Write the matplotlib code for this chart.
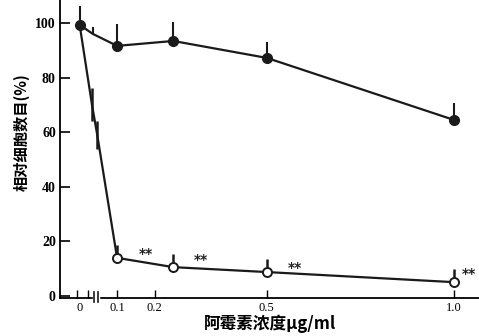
import numpy as np
import matplotlib.pyplot as plt
import matplotlib.transforms as mtransforms

# 浓度 (μg/ml) —— 0 附近为断轴区
conc_ctrl = [0, 0.035, 0.1, 0.25, 0.5, 1.0]
ctrl = [99.3, 96.0, 91.6, 93.4, 87.2, 64.5]
ctrl_err_up = [7.0, 2.5, 8.0, 7.0, 6.0, 6.2]

conc_dox = [0, 0.033, 0.047, 0.1, 0.25, 0.5, 1.0]
dox = [99.3, 70.0, 59.0, 14.0, 10.6, 8.8, 5.1]
dox_err_lo = [0, 6, 5, 0, 0, 0, 0]
dox_err_up = [0, 6, 5, 4.7, 4.8, 4.7, 4.9]

stars_at = [0.1, 0.25, 0.5, 1.0]   # 显著性 **
stars_val = [14.0, 10.6, 8.8, 5.1]
stars_dx = [21, 20, 20, 11]        # 偏移 (pt)
stars_dy = [3, 5, 3, 6]

xticks = [0, 0.1, 0.2, 0.5, 1.0]
xticklabels = ['0', '0.1', '0.2', '0.5', '1.0']
yticks = [0, 20, 40, 60, 80, 100]

plt.rcParams['font.family'] = ['Liberation Serif', 'Noto Sans CJK SC']

fig = plt.figure(figsize=(4.79, 3.36), dpi=100)
ax = fig.add_axes([60/479, 38/336, 419/479, 298/336])

# 对照组 (实心)
ax.errorbar(conc_ctrl, ctrl, yerr=[np.zeros(len(ctrl)), ctrl_err_up], fmt='none',
            ecolor='#1a1a1a', elinewidth=1.5, capsize=0, zorder=3)
ax.plot(conc_ctrl, ctrl, '-o', color='#1a1a1a', lw=1.6, ms=7, markevery=[0, 2, 3, 4, 5],
        mfc='#1a1a1a', mec='#1a1a1a', zorder=4)

# 阿霉素组 (空心)
ax.errorbar(conc_dox, dox, yerr=[dox_err_lo, dox_err_up], fmt='none',
            ecolor='#1a1a1a', elinewidth=1.8, capsize=0, zorder=3)
ax.plot(conc_dox, dox, '-', color='#1a1a1a', lw=1.6, zorder=4)
ax.plot(conc_dox[3:], dox[3:], 'o', ms=6.5, mfc='white', mec='#1a1a1a', mew=1.4, zorder=5)

for xs, ys, dx, dy in zip(stars_at, stars_val, stars_dx, stars_dy):
    ax.annotate('**', (xs, ys), xytext=(dx, dy), textcoords='offset points',
                fontsize=10, fontweight='bold', color='#222222', ha='center', va='center',
                family='DejaVu Sans')

ax.set_xlim(-0.0525, 1.067)
ax.set_ylim(-0.7, 108.4)
ax.set_yticks(yticks)
ax.set_xticks(xticks)
ax.set_xticklabels(xticklabels)
ax.set_xticks([-0.007, 0.022], minor=True)
ax.xaxis.get_major_ticks()[0].tick1line.set_visible(False)
ax.tick_params(axis='y', direction='in', length=7, width=1.2, labelsize=10, pad=3)
ax.tick_params(axis='x', which='both', direction='in', length=6, width=1.0, labelsize=9, pad=3)
for lab in ax.get_yticklabels():
    lab.set_fontweight('bold')
for s in ['top', 'right']:
    ax.spines[s].set_visible(False)
ax.spines['left'].set_linewidth(1.3)
ax.spines['bottom'].set_linewidth(1.3)

# 断轴标记
trans = mtransforms.blended_transform_factory(ax.transData, ax.transAxes)
ax.plot([0.0385, 0.049], [0, 0], color='white', lw=2.5, transform=trans, clip_on=False, zorder=6)
for xb in [0.0385, 0.049]:
    ax.plot([xb, xb], [-0.015, 0.02], color='#1a1a1a', lw=1.2, transform=trans,
            clip_on=False, zorder=7)

fig.text(270/479, 1 - 324/336, '阿霉素浓度μg/ml', ha='center', va='center',
         fontsize=12, fontweight='bold', family=['Noto Sans CJK SC', 'DejaVu Sans'])
fig.text(22/479, 1 - 132/336, '相对细胞数目(%)', ha='center', va='center', rotation=90,
         fontsize=11, fontweight='bold', family=['Noto Sans CJK SC', 'DejaVu Sans'])

fig.savefig('out.png', dpi=100)
